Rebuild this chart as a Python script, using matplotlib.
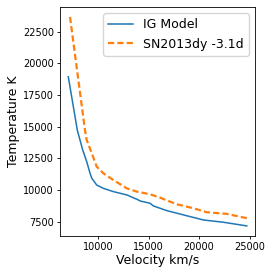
import matplotlib
matplotlib.use("Agg")
import matplotlib.pyplot as plt

# IG model temperature profile
model_vel = [7060, 7950, 8485, 8880, 9210, 9380, 9870, 10520, 11510, 12840,
             13990, 14160, 15150, 15470, 16800, 18450, 20420, 22400, 24720]
model_temp = [18940, 14730, 13160, 12240, 11320, 10930, 10390, 10130, 9870, 9610,
              9210, 9130, 8950, 8740, 8370, 8030, 7630, 7450, 7160]

# SN2013dy at -3.1d
sn_vel = [7230, 8710, 8880, 9380, 9870, 10520, 11510, 12840, 13830, 15150,
          16140, 17790, 19430, 20760, 22740, 24720]
sn_temp = [23670, 14730, 13950, 12900, 11840, 11320, 10790, 10130, 9870, 9660,
           9390, 8870, 8560, 8240, 8110, 7770]

fig = plt.figure(figsize=(2.74, 2.74), dpi=100)
ax = fig.add_axes([0.219, 0.139, 0.712, 0.835])

ax.plot(model_vel, model_temp, color="#1f77b4", lw=1.1, label="IG Model")
ax.plot(sn_vel, sn_temp, color="#ff7f0e", lw=1.6, ls="--", dashes=(2.8, 1.4),
        label="SN2013dy -3.1d")

ax.set_xlim(6240, 25540)
ax.set_ylim(6370, 24440)
ax.set_xticks([10000, 15000, 20000, 25000])
ax.set_yticks([7500, 10000, 12500, 15000, 17500, 20000, 22500])
ax.tick_params(labelsize=7, length=2.5, width=0.6, pad=2)
for s in ax.spines.values():
    s.set_linewidth(0.6)

ax.set_xlabel("Velocity km/s", fontsize=9, labelpad=1)
ax.set_ylabel("Temperature K", fontsize=9, labelpad=2)
ax.legend(fontsize=9, loc="upper right", handlelength=2.0)

fig.savefig("out.png", dpi=100)
